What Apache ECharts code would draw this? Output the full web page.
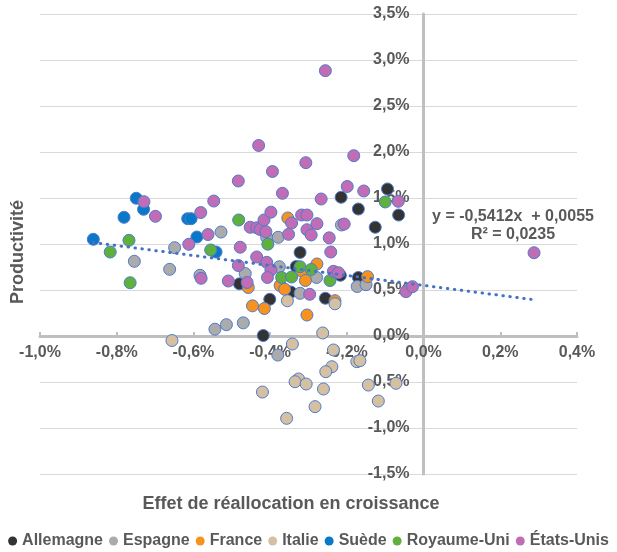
<!DOCTYPE html>
<html>
<head>
<meta charset="utf-8">
<script src="https://cdn.jsdelivr.net/npm/echarts@6/dist/echarts.min.js"></script>
<style>
html,body{margin:0;padding:0;background:#fff;}
#chart{width:617px;height:552px;}
</style>
</head>
<body>
<div id="chart"></div>
<script>
// Values in percent: [réallocation, productivité]
const allemagne = [[-0.480,0.567],[-0.418,0.005],[-0.322,0.908],[-0.332,0.755],[-0.346,0.478],[-0.401,0.399],[-0.256,0.410],[-0.217,0.660],[-0.170,0.636],[-0.215,1.508],[-0.170,1.380],[-0.126,1.182],[-0.094,1.598],[-0.065,1.315]];
const espagne = [[-0.754,0.812],[-0.649,0.960],[-0.662,0.725],[-0.528,1.130],[-0.583,0.660],[-0.465,0.679],[-0.409,1.073],[-0.379,1.073],[-0.376,0.753],[-0.322,0.464],[-0.279,0.636],[-0.214,1.207],[-0.173,0.538],[-0.150,0.558],[-0.544,0.074],[-0.514,0.123],[-0.470,0.143],[-0.380,-0.207]];
const france = [[-0.457,0.527],[-0.446,0.328],[-0.415,0.299],[-0.354,1.283],[-0.374,0.549],[-0.362,0.508],[-0.318,0.707],[-0.308,0.603],[-0.304,0.228],[-0.278,0.783],[-0.146,0.645],[-0.231,0.384]];
const italie = [[-0.656,-0.049],[-0.355,0.383],[-0.231,0.350],[-0.263,0.033],[-0.342,-0.087],[-0.235,-0.152],[-0.174,-0.279],[-0.166,-0.268],[-0.239,-0.334],[-0.255,-0.388],[-0.326,-0.467],[-0.335,-0.497],[-0.306,-0.522],[-0.261,-0.576],[-0.144,-0.533],[-0.072,-0.514],[-0.420,-0.609],[-0.118,-0.707],[-0.283,-0.768],[-0.357,-0.895]];
const suede = [[-0.861,1.051],[-0.781,1.290],[-0.749,1.497],[-0.730,1.377],[-0.615,1.275],[-0.606,1.275],[-0.591,1.076],[-0.541,0.913]];
const royaumeUni = [[-0.817,0.913],[-0.768,1.040],[-0.765,0.579],[-0.555,0.935],[-0.482,1.261],[-0.406,0.998],[-0.370,0.636],[-0.344,0.641],[-0.322,0.753],[-0.293,0.723],[-0.244,0.603],[-0.100,1.457]];
const etatsUnis = [[-0.729,1.460],[-0.699,1.301],[-0.581,1.342],[-0.547,1.467],[-0.562,1.103],[-0.612,0.997],[-0.580,0.627],[-0.509,0.598],[-0.460,0.582],[-0.483,0.766],[-0.478,0.965],[-0.435,0.859],[-0.483,1.685],[-0.430,2.071],[-0.452,1.182],[-0.435,1.176],[-0.426,1.158],[-0.411,1.134],[-0.416,1.261],[-0.398,1.346],[-0.394,1.788],[-0.368,1.551],[-0.344,1.228],[-0.318,1.315],[-0.304,1.315],[-0.307,1.884],[-0.352,1.105],[-0.304,1.155],[-0.293,1.098],[-0.278,1.221],[-0.267,1.489],[-0.246,1.067],[-0.242,0.913],[-0.207,1.217],[-0.199,1.625],[-0.182,1.960],[-0.156,1.576],[-0.066,1.464],[-0.256,2.884],[-0.409,0.801],[-0.398,0.717],[-0.407,0.636],[-0.297,0.453],[-0.235,0.703],[-0.222,0.688],[-0.046,0.482],[-0.029,0.536],[0.288,0.905]];

const seriesNames = ['Allemagne','Espagne','France','Italie','Suède','Royaume-Uni','États-Unis'];
const seriesData = [allemagne, espagne, france, italie, suede, royaumeUni, etatsUnis];
const seriesColors = ['#333333','#ABABAB','#F7921E','#D6C0A2','#0A78C8','#5FB13E','#C06DB5'];

const xTicks = {min:-1.0, max:0.4, interval:0.2};
const yTicks = {min:-1.5, max:3.5, interval:0.5};

// Linear trendline shown in the reference (fraction units)
const TREND_SLOPE = -0.5412;
const TREND_INTERCEPT = 0.0055;
const TREND_EQUATION = 'y = -0,5412x  + 0,0055';
const TREND_R2 = 'R² = 0,0235';

const xName = 'Effet de réallocation en croissance';
const yName = 'Productivité';

const allX = seriesData.flat().map(p => p[0]);
const xMin = Math.min(...allX), xMax = Math.max(...allX);
const trendData = [xMin, xMax].map(x => [x, TREND_SLOPE * x + TREND_INTERCEPT * 100]);

function pct(v){
  if (Math.abs(v) < 1e-9) v = 0;
  return v.toFixed(1).replace('.', ',') + '%';
}

const W = 617, H = 552;
const GRID = { left: 40, right: 40, top: 14, bottom: 78 };
const gridW = W - GRID.left - GRID.right;
const gridH = H - GRID.top - GRID.bottom;
// axes cross at zero: shift them inward from the grid edge
const yAxisOffset = -gridW * (0 - xTicks.min) / (xTicks.max - xTicks.min);
const xAxisOffset = -gridH * (0 - yTicks.min) / (yTicks.max - yTicks.min);

const textColor = '#595959';
const fontFam = '"Liberation Sans", Arial, sans-serif';

const chart = echarts.init(document.getElementById('chart'), null, {renderer:'canvas'});

const series = seriesNames.map((name, i) => ({
  name: name,
  type: 'scatter',
  data: seriesData[i],
  symbol: 'circle',
  symbolSize: 12,
  itemStyle: { color: seriesColors[i], borderColor: '#4F7BCB', borderWidth: 1, opacity: 1 },
  emphasis: { disabled: true },
  z: 2
}));
series.push({
  name: 'trend',
  type: 'line',
  data: trendData,
  symbol: 'none',
  lineStyle: { color: '#4472C4', width: 3, type: [0.5, 6.5], cap: 'round' },
  silent: true,
  z: 3
});

chart.setOption({
  animation: false,
  backgroundColor: '#ffffff',
  grid: Object.assign({ outerBoundsMode: 'none' }, GRID),
  xAxis: {
    type: 'value',
    position: 'bottom',
    offset: xAxisOffset,
    min: xTicks.min, max: xTicks.max, interval: xTicks.interval,
    axisLine: { onZero: false, lineStyle: { color: '#BFBFBF', width: 3 } },
    axisTick: { show: true, inside: true, length: 4, lineStyle: { color: '#BFBFBF', width: 2 } },
    axisLabel: { formatter: pct, color: textColor, fontSize: 16, fontWeight: 'bold', fontFamily: fontFam, margin: 9 },
    splitLine: { show: false }
  },
  yAxis: {
    type: 'value',
    position: 'left',
    offset: yAxisOffset,
    min: yTicks.min, max: yTicks.max, interval: yTicks.interval,
    axisLine: { show: true, onZero: false, lineStyle: { color: '#BFBFBF', width: 3 } },
    axisTick: { show: false },
    axisLabel: { formatter: pct, color: textColor, fontSize: 16, fontWeight: 'bold', fontFamily: fontFam, margin: 14 },
    splitLine: { show: true, lineStyle: { color: '#D9D9D9', width: 1 } }
  },
  legend: {
    data: seriesNames,
    top: 533,
    left: 'center',
    padding: 0,
    icon: 'circle',
    itemWidth: 9,
    itemHeight: 9,
    itemGap: 6,
    itemStyle: { borderWidth: 0 },
    textStyle: { color: textColor, fontSize: 16, fontWeight: 'bold', fontFamily: fontFam },
    selectedMode: false
  },
  graphic: [
    { type: 'text', x: 513, y: 217, style: { text: TREND_EQUATION, fill: textColor, font: 'bold 16px ' + fontFam, align: 'center', verticalAlign: 'middle' } },
    { type: 'text', x: 513, y: 235, style: { text: TREND_R2, fill: textColor, font: 'bold 16px ' + fontFam, align: 'center', verticalAlign: 'middle' } },
    { type: 'text', x: 291, y: 504, style: { text: xName, fill: textColor, font: 'bold 18px ' + fontFam, align: 'center', verticalAlign: 'middle' } },
    { type: 'text', x: 18, y: 252, rotation: Math.PI / 2, style: { text: yName, fill: textColor, font: 'bold 18px ' + fontFam, align: 'center', verticalAlign: 'middle' } }
  ],
  series: series
});
</script>
</body>
</html>
